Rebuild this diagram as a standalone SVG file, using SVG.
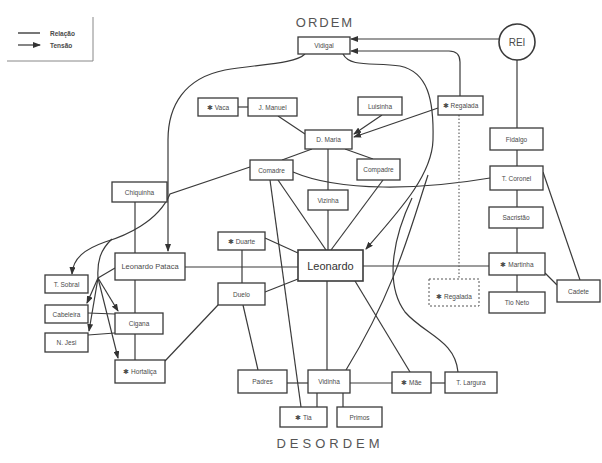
<svg xmlns="http://www.w3.org/2000/svg" width="602" height="463" viewBox="0 0 602 463">
<defs>
<marker id="arr" markerUnits="userSpaceOnUse" markerWidth="8" markerHeight="6" refX="7" refY="3" orient="auto">
<path d="M0,0 L8,3 L0,6 z" fill="#333"/>
</marker>
<style>
.bx{fill:#fff;stroke:#3a3a3a;stroke-width:1.3}
.dbx{fill:#fff;stroke:#555;stroke-width:1;stroke-dasharray:2 2}
.t{font-family:"Liberation Sans",Arial,sans-serif;font-size:6.5px;fill:#4a4a4a;text-anchor:middle;dominant-baseline:central}
.c path{fill:none;stroke:#3a3a3a;stroke-width:1.2}
.c .a{marker-end:url(#arr)}
.c .dot{stroke-dasharray:1.5 2;stroke:#666}
.title{font-family:"Liberation Sans",Arial,sans-serif;fill:#555;text-anchor:middle}
</style>
</defs>
<rect width="602" height="463" fill="#fff"/>

<g id="legend">
<path d="M93,17 L93,61 L7,61" fill="none" stroke="#888" stroke-width="1"/>
<path d="M18,33 L40,33" stroke="#777" stroke-width="2"/>
<path d="M18,45 L40,45" stroke="#333" stroke-width="1.2" marker-end="url(#arr)"/>
<text x="50" y="33" class="t" style="text-anchor:start;font-weight:bold">Relação</text>
<text x="50" y="45" class="t" style="text-anchor:start;font-weight:bold">Tensão</text>
</g>

<text x="325" y="27" class="title" font-size="13" letter-spacing="2">ORDEM</text>
<text x="330" y="448" class="title" font-size="13" letter-spacing="4">DESORDEM</text>

<g class="c" id="connectors">
<path class="a" d="M499,39 L351,39"/>
<path class="a" d="M460,96 L460,62 Q460,51 449,51 L351,51"/>
<path d="M517,60 L517,128"/>
<path d="M517,150 L517,166"/>
<path d="M517,190 L517,207"/>
<path d="M517,228 L517,253"/>
<path d="M517,275 L517,292"/>
<path d="M543,172 L580,280"/>
<path d="M545,273 L557,285"/>
<path d="M363,266 L489,266"/>
<path d="M238,107 L248,107"/>
<path d="M278,116 L305,134"/>
<path class="a" d="M382,115 L354,134"/>
<path class="a" d="M438,108 L354,137"/>
<path d="M312,149 L282,160"/>
<path d="M345,149 L373,159"/>
<path d="M328,149 L328,190"/>
<path d="M328,210 L328,250"/>
<path d="M383,180 L331,250"/>
<path d="M278,180 L326,250"/>
<path d="M270,180 L301,407"/>
<path d="M293,172 C340,192 420,190 490,178"/>
<path class="a" d="M250,167 L170,194 C158,222 125,236 105,242 C85,249 73,258 72,274"/>
<path d="M112,239 C100,250 97,262 98,278"/>
<path d="M98,278 L115,268"/>
<path class="a" d="M98,278 L87,303"/>
<path class="a" d="M98,278 L89,331"/>
<path class="a" d="M98,278 L118,311"/>
<path class="a" d="M98,278 L118,358"/>
<path d="M88,313 L115,314"/>
<path d="M88,335 L115,333"/>
<path d="M135,202 L135,253"/>
<path d="M135,280 L135,313"/>
<path d="M135,334 L135,360"/>
<path class="a" d="M305,54 C295,64 260,64 225,70 C185,78 168,105 168,140 L168,251"/>
<path d="M185,267 L298,267"/>
<path d="M242,250 L242,283"/>
<path d="M265,238 L298,253"/>
<path d="M265,292 L298,279"/>
<path d="M243,305 L258,370"/>
<path d="M165,361 L218,305"/>
<path class="a" d="M343,54 C350,68 375,62 400,66 C428,72 434,100 433,140 C432,175 400,210 366,249"/>
<path d="M428,175 C410,230 395,290 346,370"/>
<path d="M412,198 C392,240 385,285 405,312 C425,335 455,340 458,372"/>
<path d="M355,281 L410,372"/>
<path d="M327,281 L327,370"/>
<path d="M287,383 L308,383"/>
<path d="M350,383 L392,383"/>
<path d="M431,383 L445,383"/>
<path d="M317,393 L317,407"/>
<path d="M343,393 L343,407"/>
<path class="dot" d="M459,115 L459,279"/>
</g>

<g id="vidigal"><rect class="bx" x="298" y="37" width="52" height="17"/><text class="t" x="324" y="45.5">Vidigal</text></g>
<g id="rei"><circle cx="517" cy="42" r="18" fill="#fff" stroke="#3a3a3a" stroke-width="1.6"/><text class="t" x="517" y="42" style="font-size:10px">REI</text></g>
<g id="vaca"><rect class="bx" x="198" y="98" width="40" height="18"/><text class="t" x="218" y="107">✱ Vaca</text></g>
<g id="jmanuel"><rect class="bx" x="248" y="98" width="49" height="18"/><text class="t" x="272.5" y="107">J. Manuel</text></g>
<g id="luisinha"><rect class="bx" x="358" y="97" width="44" height="18"/><text class="t" x="380" y="106">Luisinha</text></g>
<g id="regalada"><rect class="bx" x="438" y="96" width="45" height="19"/><text class="t" x="460.5" y="105.5">✱ Regalada</text></g>
<g id="dmaria"><rect class="bx" x="305" y="130" width="47" height="19"/><text class="t" x="328.5" y="139.5">D. Maria</text></g>
<g id="fidalgo"><rect class="bx" x="490" y="128" width="53" height="22"/><text class="t" x="516.5" y="139">Fidalgo</text></g>
<g id="comadre"><rect class="bx" x="250" y="160" width="43" height="20"/><text class="t" x="271.5" y="170">Comadre</text></g>
<g id="compadre"><rect class="bx" x="357" y="159" width="43" height="21"/><text class="t" x="378.5" y="169.5">Compadre</text></g>
<g id="vizinha"><rect class="bx" x="308" y="190" width="40" height="20"/><text class="t" x="328" y="200">Vizinha</text></g>
<g id="tcoronel"><rect class="bx" x="490" y="166" width="53" height="24"/><text class="t" x="516.5" y="178">T. Coronel</text></g>
<g id="sacristao"><rect class="bx" x="489" y="207" width="54" height="21"/><text class="t" x="516" y="217.5">Sacristão</text></g>
<g id="martinha"><rect class="bx" x="489" y="253" width="56" height="22"/><text class="t" x="517" y="264">✱ Martinha</text></g>
<g id="tioneto"><rect class="bx" x="489" y="292" width="56" height="21"/><text class="t" x="517" y="302.5">Tio Neto</text></g>
<g id="cadete"><rect class="bx" x="557" y="280" width="43" height="22"/><text class="t" x="578.5" y="291">Cadete</text></g>
<g id="regalada2"><rect class="dbx" x="429" y="279" width="50" height="27"/><text class="t" x="454" y="296">✱ Regalada</text></g>
<g id="chiquinha"><rect class="bx" x="112" y="182" width="55" height="20"/><text class="t" x="139.5" y="192">Chiquinha</text></g>
<g id="lpataca"><rect class="bx" x="115" y="253" width="70" height="27"/><text class="t" x="150" y="266.5" style="font-size:7.5px">Leonardo Pataca</text></g>
<g id="tsobral"><rect class="bx" x="45" y="275" width="43" height="18"/><text class="t" x="66.5" y="284">T. Sobral</text></g>
<g id="cabeleira"><rect class="bx" x="45" y="305" width="43" height="18"/><text class="t" x="66.5" y="314">Cabeleira</text></g>
<g id="njesi"><rect class="bx" x="45" y="333" width="43" height="19"/><text class="t" x="66.5" y="342.5">N. Jesi</text></g>
<g id="cigana"><rect class="bx" x="115" y="313" width="48" height="21"/><text class="t" x="139" y="323.5">Cigana</text></g>
<g id="hortalica"><rect class="bx" x="115" y="360" width="50" height="23"/><text class="t" x="140" y="371.5">✱ Hortaliça</text></g>
<g id="duarte"><rect class="bx" x="218" y="232" width="47" height="18"/><text class="t" x="241.5" y="241">✱ Duarte</text></g>
<g id="duelo"><rect class="bx" x="218" y="283" width="47" height="22"/><text class="t" x="241.5" y="294">Duelo</text></g>
<g id="leonardo"><rect class="bx" x="298" y="250" width="65" height="31" style="stroke-width:1.6"/><text class="t" x="330.5" y="265.5" style="font-size:11px;fill:#333">Leonardo</text></g>
<g id="padres"><rect class="bx" x="238" y="370" width="49" height="23"/><text class="t" x="262.5" y="381.5">Padres</text></g>
<g id="vidinha"><rect class="bx" x="308" y="370" width="42" height="23"/><text class="t" x="329" y="381.5">Vidinha</text></g>
<g id="mae"><rect class="bx" x="392" y="372" width="39" height="21"/><text class="t" x="411.5" y="382.5">✱ Mãe</text></g>
<g id="tlargura"><rect class="bx" x="445" y="372" width="52" height="21"/><text class="t" x="471" y="382.5">T. Largura</text></g>
<g id="tia"><rect class="bx" x="280" y="407" width="47" height="20"/><text class="t" x="303.5" y="417">✱ Tia</text></g>
<g id="primos"><rect class="bx" x="337" y="407" width="45" height="20"/><text class="t" x="359.5" y="417">Primos</text></g>
</svg>
